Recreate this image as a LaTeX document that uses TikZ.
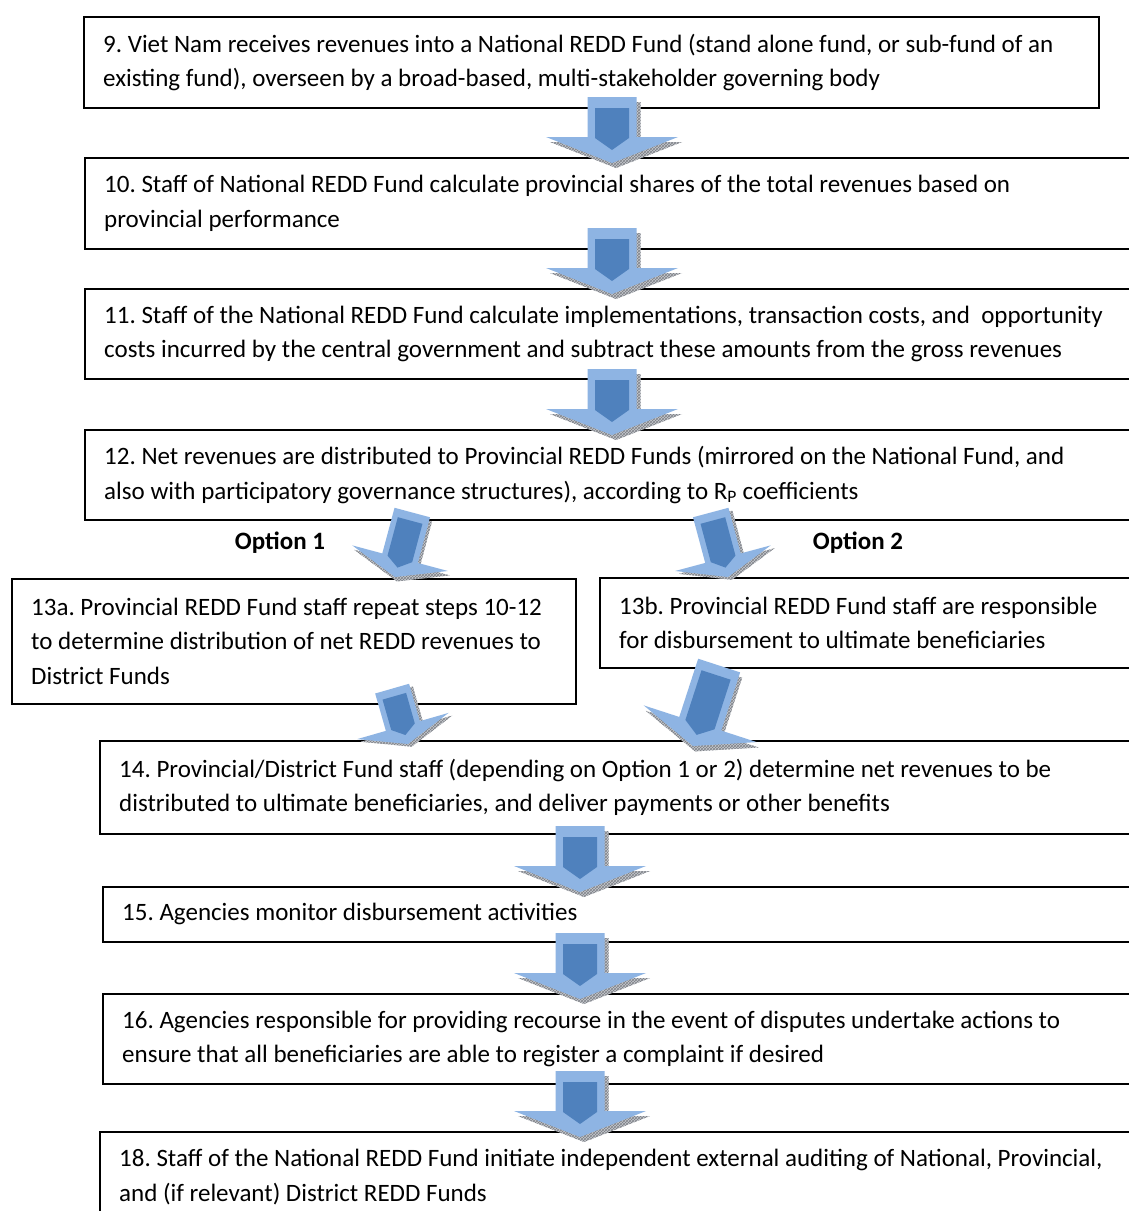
\documentclass[tikz,border=0pt]{standalone}
\usepackage{fontspec}
\setmainfont{Carlito}
\usetikzlibrary{patterns}
\frenchspacing

\definecolor{arrowlight}{HTML}{8EB4E3}
\definecolor{arrowdark}{HTML}{4F81BD}
\definecolor{bevelgray}{HTML}{C6C9CE}
\definecolor{bevelhatch}{HTML}{7F8288}

\tikzset{
  stepbox/.style={draw, line width=1.8pt, rectangle, anchor=north west, inner sep=0pt},
  steptext/.style={anchor=west, inner xsep=20pt, inner ysep=0pt, align=left,
    font=\fontsize{25}{34.6}\selectfont},
  optlabel/.style={inner sep=0pt, font=\fontsize{25}{34.6}\selectfont\bfseries},
}

% outline of a block arrow, tip at the origin, shaft of length #1 pointing up from it
\newcommand\arrowpath[1]{(-24.5,-#1) -- (24.5,-#1) -- (24.5,-26) -- (66,-26) -- (0,0) -- (-66,-26) -- (-24.5,-26) -- cycle}

% bevelled block arrow: tip x, tip y, rotation, scale, length
\newcommand\blockarrow[5]{%
  \begin{scope}[shift={(#1,#2)}, rotate=#3, scale=#4]
    \fill[bevelgray, shift={(4,5)}] \arrowpath{#5};
    \fill[pattern=crosshatch, pattern color=bevelhatch, shift={(4,5)}] \arrowpath{#5};
    \fill[arrowlight] \arrowpath{#5};
    \fill[arrowdark] (-17,{-#5+11}) -- (17,{-#5+11}) -- (17,-25) -- (0,-13) -- (-17,-25) -- cycle;
  \end{scope}}

\begin{document}
\begin{tikzpicture}[x=1pt, y=-1pt]
\useasboundingbox (0,0) rectangle (1128,1211);
\fill[white] (0,0) rectangle (1128,1211);

% process step frames
\node[stepbox, minimum width=1015pt, minimum height=91pt] (b9)   at (83,16) {};
\node[stepbox, minimum width=1076pt, minimum height=91pt] (b10)  at (84,157) {};
\node[stepbox, minimum width=1076pt, minimum height=90pt] (b11)  at (84,288) {};
\node[stepbox, minimum width=1076pt, minimum height=90pt] (b12)  at (84,429) {};
\node[stepbox, minimum width=564pt,  minimum height=125pt] (b13a) at (11,578) {};
\node[stepbox, minimum width=561pt,  minimum height=90pt] (b13b) at (599,577) {};
\node[stepbox, minimum width=1061pt, minimum height=93pt] (b14)  at (99,740) {};
\node[stepbox, minimum width=1058pt, minimum height=55pt] (b15)  at (102,886) {};
\node[stepbox, minimum width=1058pt, minimum height=90pt] (b16)  at (102,993) {};
\node[stepbox, minimum width=1061pt, minimum height=90pt] (b18)  at (99,1131) {};

% step descriptions
\node[steptext] (t9) at (b9.west)
  {9. Viet Nam receives revenues into a National REDD Fund (stand alone fund, or sub-fund of an\\existing fund), overseen by a broad-based, multi-stakeholder governing body};
\node[steptext] (t10) at (b10.west)
  {10. Staff of National REDD Fund calculate provincial shares of the total revenues based on\\provincial performance};
\node[steptext] (t11) at (b11.west)
  {11. Staff of the National REDD Fund calculate implementations, transaction costs, and~ opportunity\\costs incurred by the central government and subtract these amounts from the gross revenues};
\node[steptext] (t12) at (b12.west)
  {12. Net revenues are distributed to Provincial REDD Funds (mirrored on the National Fund, and\\also with participatory governance structures), according to R\textsubscript{P} coefficients};
\node[steptext] (t13a) at (b13a.west)
  {13a. Provincial REDD Fund staff repeat steps 10-12\\to determine distribution of net REDD revenues to\\District Funds};
\node[steptext] (t13b) at (b13b.west)
  {13b. Provincial REDD Fund staff are responsible\\for disbursement to ultimate beneficiaries};
\node[steptext] (t14) at (b14.west)
  {14. Provincial/District Fund staff (depending on Option 1 or 2) determine net revenues to be\\distributed to ultimate beneficiaries, and deliver payments or other benefits};
\node[steptext] (t15) at (b15.west)
  {15. Agencies monitor disbursement activities};
\node[steptext] (t16) at (b16.west)
  {16. Agencies responsible for providing recourse in the event of disputes undertake actions to\\ensure that all beneficiaries are able to register a complaint if desired};
\node[steptext] (t18) at (b18.west)
  {18. Staff of the National REDD Fund initiate independent external auditing of National, Provincial,\\and (if relevant) District REDD Funds};

% option labels
\node[optlabel] (opt1) at (280,543) {Option 1};
\node[optlabel] (opt2) at (858,543) {Option 2};

% flow arrows
\blockarrow{612}{163}{0}{1}{66}
\blockarrow{612}{294}{0}{1}{66}
\blockarrow{612}{435}{0}{1}{66}
\blockarrow{395}{577}{-15}{0.75}{89}
\blockarrow{728}{577}{15}{0.75}{89}
\blockarrow{408}{744}{16}{0.72}{80}
\blockarrow{693}{746}{-18}{0.9}{94}
\blockarrow{580}{892}{0}{1}{66}
\blockarrow{580}{999}{0}{1}{66}
\blockarrow{580}{1137}{0}{1}{66}
\end{tikzpicture}
\end{document}
